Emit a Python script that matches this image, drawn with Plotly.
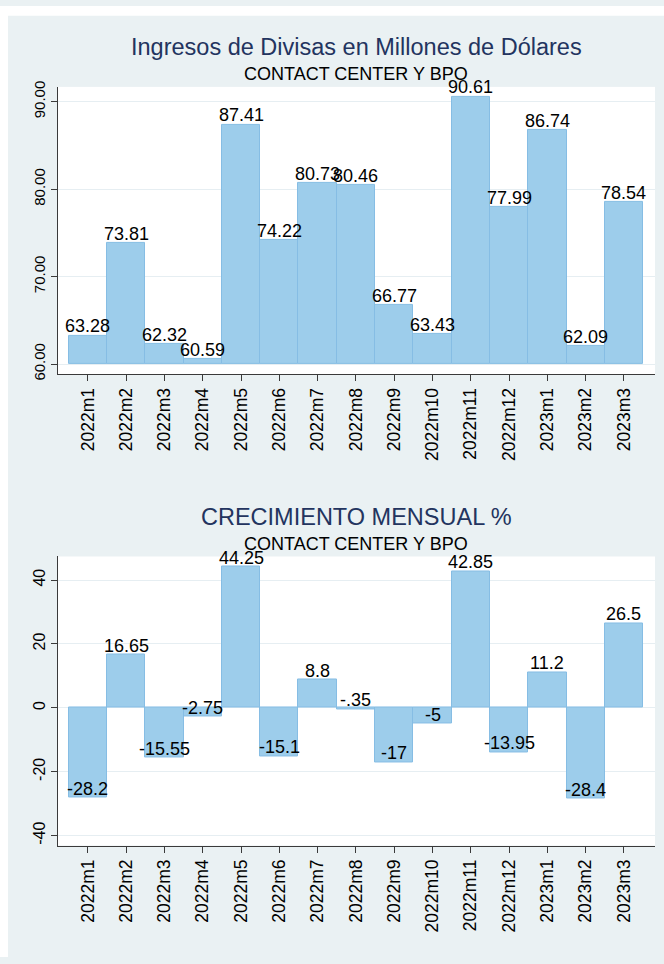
import plotly.graph_objects as go

months = ["2022m1", "2022m2", "2022m3", "2022m4", "2022m5", "2022m6", "2022m7", "2022m8",
          "2022m9", "2022m10", "2022m11", "2022m12", "2023m1", "2023m2", "2023m3"]
ingresos = [63.28, 73.81, 62.32, 60.59, 87.41, 74.22, 80.73, 80.46,
            66.77, 63.43, 90.61, 77.99, 86.74, 62.09, 78.54]
crecimiento = [-28.2, 16.65, -15.55, -2.75, 44.25, -15.1, 8.8, -0.35,
               -17, -5, 42.85, -13.95, 11.2, -28.4, 26.5]
top_ticks = [60, 70, 80, 90]
bottom_ticks = [-40, -20, 0, 20, 40]

BASE_TOP = 60
W, H = 664, 964
BG = "#EAF1F3"
BAR = "#9DCDEB"
BAR_LINE = "#86BDE4"
GRID = "#E6EEF2"
AXIS = "#3a3a3a"
FONT = "Liberation Sans, Arial, sans-serif"


def stata_fmt(v):
    s = ("%g" % v)
    if s.startswith("-0."):
        s = "-" + s[2:]
    elif s.startswith("0."):
        s = s[1:]
    return s


def px_x(p):
    return p / W


def px_y(p):
    return 1 - p / H


fig = go.Figure()
idx = list(range(len(months)))

fig.add_trace(go.Bar(
    x=idx, y=[v - BASE_TOP for v in ingresos], base=BASE_TOP, width=1.0,
    marker=dict(color=BAR, line=dict(color=BAR_LINE, width=1)),
    xaxis="x", yaxis="y", showlegend=False))
fig.add_trace(go.Bar(
    x=idx, y=crecimiento, width=1.0,
    marker=dict(color=BAR, line=dict(color=BAR_LINE, width=1)),
    xaxis="x2", yaxis="y2", showlegend=False))

annotations = []
for i, v in enumerate(ingresos):
    annotations.append(dict(x=i, y=v, xref="x", yref="y", text="%.2f" % v,
                            showarrow=False, yanchor="bottom", xanchor="center",
                            yshift=-3, font=dict(size=18, color="black", family=FONT)))
for i, v in enumerate(crecimiento):
    annotations.append(dict(x=i, y=v, xref="x2", yref="y2", text=stata_fmt(v),
                            showarrow=False, yanchor="bottom", xanchor="center",
                            yshift=-3, font=dict(size=18, color="black", family=FONT)))

# titles
titles = [
    ("Ingresos de Divisas en Millones de Dólares", 42, 23.5, "#23345f"),
    ("CONTACT CENTER Y BPO", 69, 18, "black"),
    ("CRECIMIENTO MENSUAL %", 518, 23.5, "#23345f"),
    ("CONTACT CENTER Y BPO", 545, 18, "black"),
]
for t, yp, sz, col in titles:
    annotations.append(dict(x=px_x(356), y=px_y(yp), xref="paper", yref="paper", text=t,
                            showarrow=False, xanchor="center", yanchor="middle",
                            font=dict(size=sz, color=col, family=FONT)))

shapes = [
    dict(type="rect", xref="paper", yref="paper", x0=0, x1=px_x(8), y0=0, y1=1,
         fillcolor="white", line=dict(width=0), layer="below"),
    dict(type="rect", xref="paper", yref="paper", x0=0, x1=1, y0=px_y(10), y1=1,
         fillcolor="white", line=dict(width=0), layer="below"),
]

xr = [-0.78, 14.81]
common_x = dict(range=xr, tickmode="array", tickvals=idx, ticktext=months, tickangle=-90,
                showline=True, linecolor=AXIS, linewidth=1, ticks="outside", ticklen=6,
                tickcolor=AXIS, showgrid=False, zeroline=False,
                tickfont=dict(size=17.5, color="black", family=FONT), fixedrange=True)
common_y = dict(showline=True, linecolor=AXIS, linewidth=1, ticks="outside", ticklen=6,
                tickcolor=AXIS, showgrid=True, gridcolor=GRID, gridwidth=1, zeroline=False,
                tickangle=-90, fixedrange=True)

fig.update_layout(
    width=W, height=H, margin=dict(l=0, r=0, t=0, b=0),
    paper_bgcolor=BG, plot_bgcolor="white", bargap=0,
    font=dict(family=FONT, color="black"),
    xaxis=dict(domain=[px_x(58), px_x(655)], anchor="y", **common_x),
    yaxis=dict(domain=[px_y(373), px_y(82)], anchor="x", range=[58.87, 91.7],
               tickvals=top_ticks, ticktext=["%.2f" % t for t in top_ticks],
               tickfont=dict(size=15, color="black", family=FONT), **common_y),
    xaxis2=dict(domain=[px_x(58), px_x(655)], anchor="y2", **common_x),
    yaxis2=dict(domain=[px_y(851), px_y(558)], anchor="x2", range=[-43.1, 47.4],
                tickvals=bottom_ticks, ticktext=[str(t) for t in bottom_ticks],
                tickfont=dict(size=16, color="black", family=FONT), **common_y),
    annotations=annotations, shapes=shapes,
)

fig.write_html("out.html", config={"displayModeBar": False},
               post_script="document.body.style.margin='0';document.body.style.overflow='hidden';")
